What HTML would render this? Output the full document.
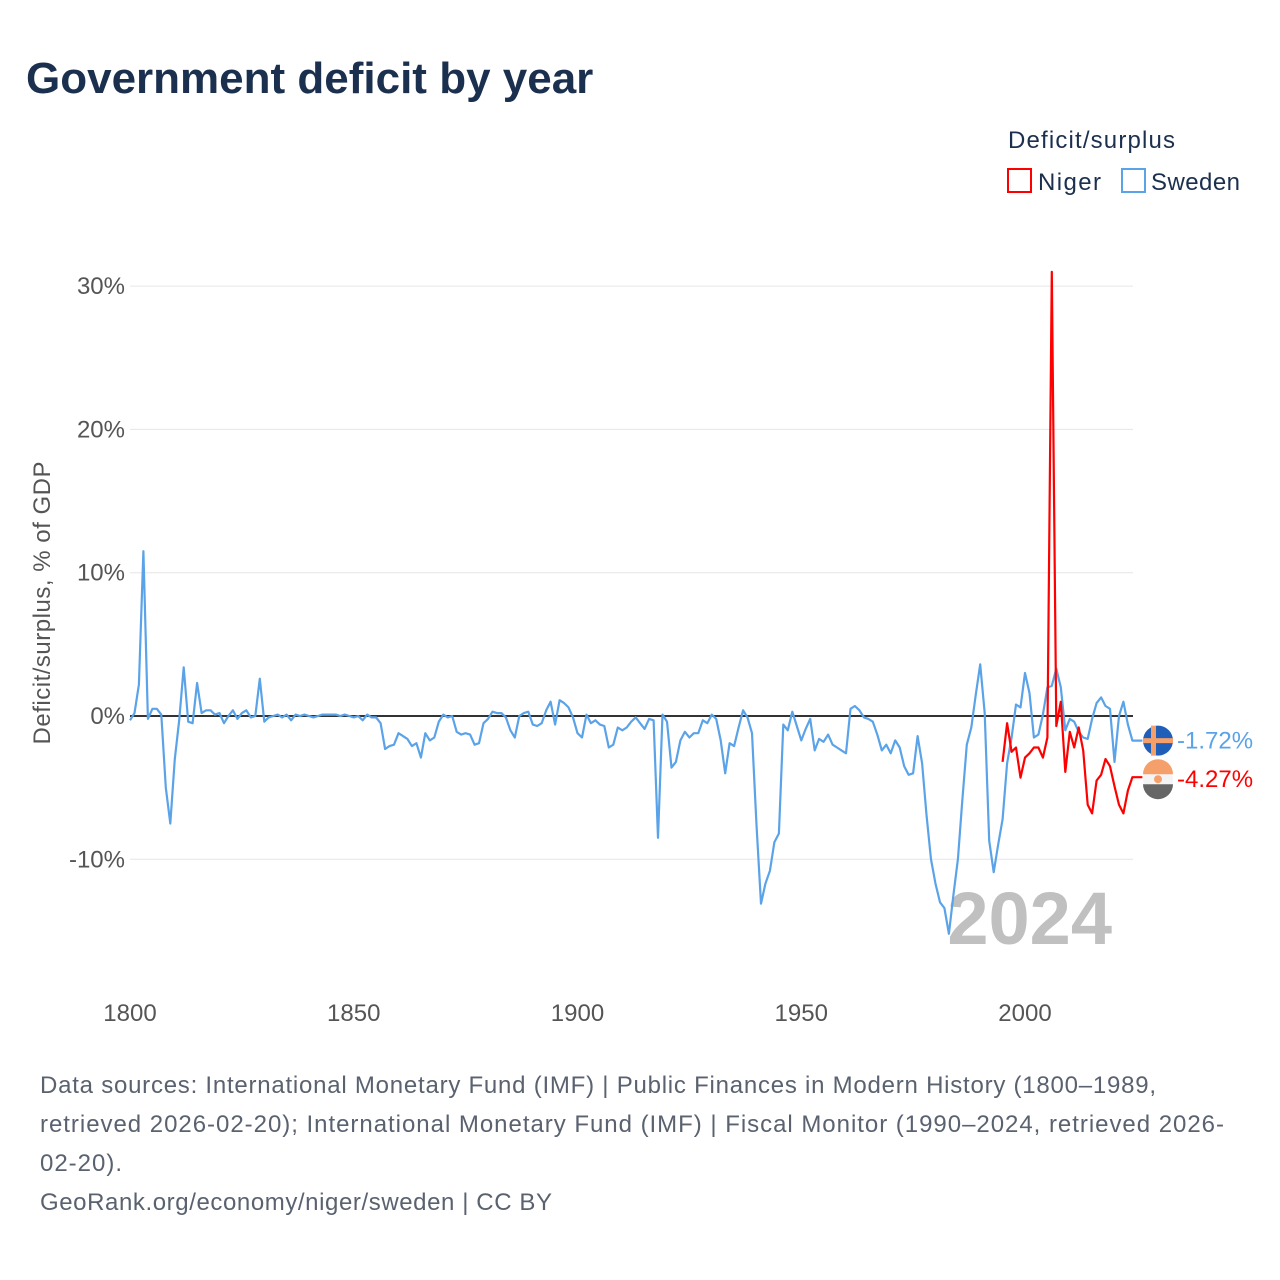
<!DOCTYPE html>
<html><head><meta charset="utf-8"><style>
body{margin:0;background:#fff;font-family:"Liberation Sans",sans-serif;}
#wrap{position:relative;width:1280px;height:1280px;overflow:hidden;}
</style></head><body>
<div id="wrap">
<svg id="svg" width="1280" height="1280" xmlns="http://www.w3.org/2000/svg">
<text x="26" y="93" font-size="44" font-weight="bold" fill="#1b2f4e">Government deficit by year</text>
<text x="1008" y="148" font-size="24" fill="#1b2f4e" textLength="167">Deficit/surplus</text>
<g><rect x="1008" y="169" width="23" height="23" fill="none" stroke="#ff0000" stroke-width="2"/><text x="1038" y="190" font-size="24" fill="#1b2f4e" textLength="63">Niger</text></g>
<g><rect x="1122" y="169" width="23" height="23" fill="none" stroke="#5ba3e8" stroke-width="2"/><text x="1151" y="190" font-size="24" fill="#1b2f4e" textLength="89">Sweden</text></g>
<g id="grid"></g>
<text x="1112" y="944" font-size="74" font-weight="bold" fill="#c0c0c0" text-anchor="end">2024</text>
<g id="plot"></g>
<text transform="translate(50,603) rotate(-90)" font-size="24" fill="#555" text-anchor="middle" textLength="283">Deficit/surplus, % of GDP</text>
<g font-size="24" fill="#5a6270">
<text x="40" y="1093" textLength="1116">Data sources: International Monetary Fund (IMF) | Public Finances in Modern History (1800–1989,</text>
<text x="40" y="1132" textLength="1184">retrieved 2026-02-20); International Monetary Fund (IMF) | Fiscal Monitor (1990–2024, retrieved 2026-</text>
<text x="40" y="1171" textLength="82">02-20).</text>
<text x="40" y="1210" textLength="512">GeoRank.org/economy/niger/sweden | CC BY</text>
</g>
</svg>
</div>
<script>
const yTicks=[-10,0,10,20,30];
const xTicks=[1800,1850,1900,1950,2000];
const swedenStart=1800;
const swedenValues=[-0.3,0.2,2.2,11.5,-0.2,0.5,0.5,0.1,-5,-7.5,-3,-0.3,3.4,-0.4,-0.5,2.3,0.2,0.4,0.4,0.1,0.2,-0.5,0,0.4,-0.2,0.2,0.4,-0.1,0,2.6,-0.4,-0.1,0,0.1,-0.1,0.1,-0.3,0.1,0,0.1,0,-0.1,0,0.1,0.1,0.1,0.1,0,0.1,0,-0.1,0,-0.3,0.1,-0.1,-0.1,-0.5,-2.3,-2.1,-2.0,-1.2,-1.4,-1.6,-2.1,-1.9,-2.9,-1.2,-1.7,-1.5,-0.4,0.1,-0.1,0,-1.1,-1.3,-1.2,-1.3,-2,-1.9,-0.5,-0.2,0.3,0.2,0.2,-0.1,-1,-1.5,0,0.2,0.3,-0.6,-0.7,-0.5,0.4,1.0,-0.6,1.1,0.9,0.6,-0.1,-1.2,-1.5,0.1,-0.5,-0.3,-0.6,-0.7,-2.2,-2,-0.8,-1,-0.8,-0.4,-0.1,-0.5,-0.9,-0.2,-0.3,-8.5,0.1,-0.4,-3.6,-3.2,-1.7,-1.1,-1.5,-1.2,-1.2,-0.3,-0.5,0.1,-0.2,-1.7,-4,-1.9,-2.1,-0.8,0.4,-0.1,-1.2,-7.6,-13.1,-11.7,-10.8,-8.8,-8.2,-0.6,-1,0.3,-0.7,-1.7,-0.9,-0.2,-2.4,-1.6,-1.8,-1.3,-2,-2.2,-2.4,-2.6,0.5,0.7,0.4,-0.1,-0.2,-0.4,-1.3,-2.4,-2,-2.6,-1.7,-2.2,-3.5,-4.1,-4,-1.4,-3.3,-6.9,-10,-11.7,-13,-13.4,-15.2,-12.5,-10,-5.9,-2.0,-0.8,1.5,3.6,0.2,-8.7,-10.9,-9,-7.2,-3.3,-1.5,0.8,0.6,3.0,1.6,-1.5,-1.3,0.1,2.0,2.1,3.3,2.0,-1.0,-0.2,-0.4,-1.1,-1.5,-1.6,-0.2,0.9,1.3,0.7,0.5,-3.2,0.0,1.0,-0.6,-1.72];
const nigerStart=1995;
const nigerValues=[-3.2,-0.5,-2.5,-2.2,-4.3,-2.9,-2.6,-2.2,-2.2,-2.9,-1.5,31.0,-0.7,1.0,-3.9,-1.1,-2.2,-0.8,-2.4,-6.2,-6.8,-4.5,-4.1,-3,-3.5,-4.9,-6.2,-6.8,-5.2,-4.27];
const NS='http://www.w3.org/2000/svg';
const X=yr=>130+(yr-1800)*4.475;
const Y=v=>716-v*14.33;
const grid=document.getElementById('grid'),plot=document.getElementById('plot');
function mk(tag,attrs,parent){const e=document.createElementNS(NS,tag);for(const k in attrs)e.setAttribute(k,attrs[k]);parent.appendChild(e);return e;}
yTicks.forEach(t=>{
 if(t!==0){const l=mk('line',{x1:130,x2:1133,y1:Y(t),y2:Y(t),stroke:'#e6e6e6','stroke-width':1},grid);
 
 }
 const tx=mk('text',{x:125,y:Y(t)+8,'font-size':24,fill:'#555','text-anchor':'end'},grid);
 tx.textContent=t+'%';
 
 
});
xTicks.forEach(t=>{
 const tx=mk('text',{x:X(t),y:1021,'font-size':24,fill:'#555','text-anchor':'middle'},grid);
 tx.textContent=t;
 
 
});
const zero=mk('line',{x1:130,x2:1133,y1:Y(0),y2:Y(0),stroke:'#333','stroke-width':2},plot);


function series(vals,start,color,name){
 const pts=vals.map((v,i)=>X(start+i).toFixed(1)+','+Y(v).toFixed(1));
 pts.push((X(start+vals.length-1)+10).toFixed(1)+','+Y(vals[vals.length-1]).toFixed(1));
 const p=mk('polyline',{points:pts.join(' '),fill:'none',stroke:color,'stroke-width':2.2,'stroke-linejoin':'round'},plot);
 
 
}
series(swedenValues,swedenStart,'#5ba3e8','sweden-line');
series(nigerValues,nigerStart,'#ff0000','niger-line');
const sv=swedenValues[swedenValues.length-1],nv=nigerValues[nigerValues.length-1];
const sy=Y(sv),ny=Y(nv)+2;
const sf=mk('g',{},plot);


mk('circle',{cx:1158,cy:sy,r:15,fill:'#1f5fb8'},sf);
mk('rect',{x:1143,y:sy-2.5,width:30,height:5,fill:'#f5a06a'},sf);
mk('rect',{x:1151,y:sy-15,width:5,height:30,fill:'#f5a06a'},sf);
const st=mk('text',{x:1177,y:sy+8,'font-size':24,fill:'#5ba3e8'},plot);
st.textContent=sv.toFixed(2)+'%';


const nf=mk('g',{},plot);


mk('circle',{cx:1158,cy:ny,r:15,fill:'#f4f4f4'},nf);
mk('path',{d:`M1143 ${ny-5} A15 15 0 0 1 1173 ${ny-5} Z`,fill:'#f5a06a'},nf);
mk('path',{d:`M1143 ${ny+5} A15 15 0 0 0 1173 ${ny+5} Z`,fill:'#666'},nf);
mk('circle',{cx:1158,cy:ny,r:4,fill:'#f5a06a'},nf);
const nt=mk('text',{x:1177,y:ny+8,'font-size':24,fill:'#ff0000'},plot);
nt.textContent=nv.toFixed(2)+'%';


</script>
</body></html>
